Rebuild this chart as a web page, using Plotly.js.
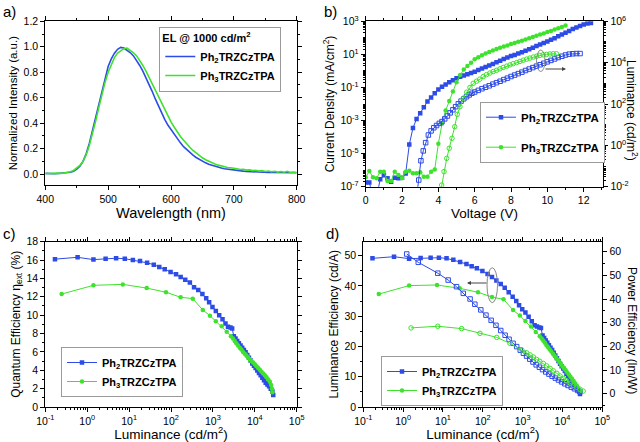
<!DOCTYPE html>
<html><head><meta charset="utf-8">
<script src="https://cdn.plot.ly/plotly-3.0.1.min.js"></script>
<style>html,body{margin:0;padding:0;background:#fff}#chart{width:640px;height:442px}</style>
</head><body><div id="chart"></div>
<script>
// ---------- Panel a: EL spectra ----------
const wavelength = [400,405,410,415,420,425,430,435,440,445,450,455,460,465,470,475,480,485,490,495,500,505,510,515,520,525,530,535,540,545,550,555,560,565,570,575,580,585,590,595,600,605,610,615,620,625,630,635,640,645,650,655,660,665,670,675,680,685,690,695,700,705,710,715,720,725,730,735,740,745,750,755,760,765,770,775,780,785,790,795,800];
const elPh2 = [0.005,0.003,0.004,0.002,0.004,0.006,0.008,0.010,0.014,0.022,0.038,0.062,0.10,0.16,0.24,0.34,0.44,0.55,0.66,0.76,0.845,0.905,0.95,0.98,0.995,0.99,0.975,0.955,0.93,0.895,0.855,0.81,0.76,0.705,0.65,0.59,0.535,0.48,0.43,0.385,0.35,0.31,0.275,0.245,0.215,0.19,0.168,0.148,0.13,0.114,0.1,0.088,0.077,0.068,0.06,0.053,0.047,0.042,0.038,0.034,0.031,0.028,0.025,0.023,0.021,0.019,0.018,0.017,0.016,0.015,0.014,0.013,0.012,0.012,0.011,0.011,0.010,0.010,0.009,0.010,0.010];
const elPh3 = [0.004,0.006,0.003,0.005,0.007,0.005,0.009,0.012,0.018,0.028,0.045,0.068,0.10,0.15,0.225,0.315,0.415,0.52,0.625,0.72,0.80,0.865,0.915,0.95,0.97,0.985,0.99,0.975,0.955,0.93,0.895,0.855,0.81,0.76,0.71,0.655,0.60,0.55,0.50,0.455,0.41,0.37,0.33,0.295,0.265,0.235,0.21,0.185,0.165,0.145,0.128,0.113,0.10,0.089,0.079,0.07,0.063,0.058,0.052,0.05,0.043,0.042,0.036,0.037,0.031,0.033,0.027,0.029,0.024,0.027,0.02,0.024,0.018,0.022,0.015,0.02,0.014,0.022,0.013,0.016,0.012];

// ---------- Panel b: J-V-L ----------
const vJPh2 = [0,0.2,0.4,0.6,0.8,1.0,1.2,1.4,1.6,1.8,2.0,2.2,2.4,2.6,2.8,3.0,3.2,3.4,3.6,3.8,4.0,4.2,4.4,4.6,4.8,5.0,5.2,5.4,5.6,5.8,6.0,6.2,6.4,6.6,6.8,7.0,7.2,7.4,7.6,7.8,8.0,8.2,8.4,8.6,8.8,9.0,9.2,9.4,9.6,9.8,10.0,10.2,10.4,10.6,10.8,11.0,11.2,11.4,11.6,11.8,12.0,12.2,12.4];
const jPh2 = [1.8e-7,1.8e-7,2.5e-8,2.5e-8,2.8e-7,5.0e-7,3.2e-7,2.0e-7,3.5e-7,3.2e-7,3.5e-7,6.3e-7,3.5e-5,3.5e-4,1.26e-3,2.8e-3,6.3e-3,1.4e-2,2.5e-2,4.5e-2,7.6e-2,0.112,0.151,0.209,0.275,0.355,0.437,0.525,0.631,0.759,0.891,1.12,1.41,1.74,2.14,2.63,3.31,4.17,5.25,6.46,7.94,9.33,11.2,13.5,16.6,20.4,25.1,31.6,39.8,49.0,60.3,75.9,95.5,123,158,204,263,339,427,525,631,724,794];
const vJPh3 = [0,0.2,0.4,0.6,0.8,1.0,1.2,1.4,1.6,1.8,2.0,2.2,2.4,2.6,2.8,3.0,3.2,3.4,3.6,3.8,4.0,4.2,4.4,4.6,4.8,5.0,5.2,5.4,5.6,5.8,6.0,6.2,6.4,6.6,6.8,7.0,7.2,7.4,7.6,7.8,8.0,8.2,8.4,8.6,8.8,9.0,9.2,9.4,9.6,9.8,10.0,10.2,10.4,10.6,10.8,11.0];
const jPh3 = [3.7e-7,8.9e-7,3.7e-7,3.2e-7,8.1e-7,8.1e-7,2.2e-7,2.2e-7,8.1e-7,5.1e-7,3.2e-7,8.1e-7,9.3e-7,6.5e-7,6.5e-7,7.4e-7,4.0e-7,4.0e-7,8.1e-7,1.1e-6,4.0e-5,6.3e-4,4.0e-3,1.5e-2,5.6e-2,0.209,0.562,1.2,2.0,3.16,5.01,6.61,8.91,11.2,13.8,17.4,20.9,25.1,29.5,34.7,41.7,49.0,57.5,67.6,79.4,93.3,112,132,158,186,224,263,316,380,457,550];
const vLPh2 = [2.8,2.92,3.04,3.17,3.3,3.45,3.6,3.75,3.9,4.05,4.2,4.35,4.5,4.65,4.8,4.95,5.1,5.25,5.4,5.55,5.7,5.85,6.0,6.2,6.4,6.6,6.8,7.0,7.2,7.4,7.6,7.8,8.0,8.2,8.4,8.6,8.8,9.0,9.2,9.4,9.6,9.8,10.0,10.2,10.4,10.6,10.8,11.0,11.2,11.4,11.6,11.8];
const lumPh2 = [0.003,0.021,0.18,0.54,1.35,3.16,5.0,7.1,9.1,11.5,14.1,19.1,26.3,37.2,52.5,74.1,102,138,178,224,275,331,380,457,550,646,759,912,1072,1259,1514,1778,2138,2512,2951,3467,4169,4898,5754,6761,7943,9333,10960,12880,15140,17780,20420,23440,25700,26920,27540,27540];
const vLPh3 = [4.05,4.18,4.31,4.46,4.6,4.75,4.9,5.04,5.19,5.37,5.56,5.74,5.92,6.1,6.28,6.47,6.65,6.84,7.02,7.2,7.39,7.57,7.76,7.94,8.12,8.31,8.49,8.68,8.86,9.04,9.23,9.41,9.59,9.77,9.96,10.14,10.32,10.5];
const lumPh3 = [0.0025,0.012,0.054,0.234,0.724,2.19,8.0,31.6,74.1,191,372,631,1000,1259,1585,2138,2630,3162,3715,4266,5012,5888,6761,7762,8913,10000,11480,13180,14790,16600,18620,20420,22390,23990,25120,26300,26920,26920];

// ---------- Panel c / d: efficiencies vs luminance ----------
const lumEffPh2 = [0.17,0.59,1.41,2.75,4.9,7.9,12.3,18.2,26.9,38.9,52.5,70.8,97.7,132,170,219,282,355,447,562,692,813,977,1175,1413,1698,1995,2291,2630,2884,3162,3467,3802,4169,4571,5012,5495,6026,6607,7244,7943,8710,9550,10470,11480,12590,13800,15140,16600,18200,19950,21880,23990,26300,27540];
const eqePh2 = [16.1,16.3,16.05,16.15,16.2,16.15,16.0,15.9,15.7,15.5,15.25,15.0,14.7,14.45,14.15,13.85,13.55,13.05,12.75,12.3,11.85,11.4,10.9,10.45,10.0,9.55,9.1,8.75,8.65,8.55,7.7,7.45,7.2,6.95,6.7,6.45,6.2,5.95,5.65,5.35,5.05,4.75,4.5,4.25,3.98,3.7,3.45,3.18,2.9,2.65,2.45,2.25,2.0,1.7,1.3];
const cePh2 = [49.1,49.65,49.0,49.2,49.3,49.3,49.1,48.6,47.9,47.2,46.5,45.8,44.9,43.9,42.9,41.8,40.6,39.4,37.9,36.4,35.0,33.6,32.3,31.2,29.8,28.3,27.0,26.6,26.3,26.1,23.6,22.8,22.0,21.2,20.4,19.6,18.8,17.9,17.0,16.1,15.2,14.3,13.5,12.7,11.9,11.0,10.2,9.4,8.6,7.8,7.1,6.5,5.8,5.1,4.3];
const lumEffPh3 = [0.245,1.41,7.08,26.3,75.9,170,331,575,851,1175,1622,2138,2692,3020,3311,3631,3981,4365,4786,5248,5754,6310,6918,7586,8318,9120,10000,10960,12020,13180,14450,15850,17380,19050,20890,22910,24550,25700,26300];
const eqePh3 = [12.3,13.25,13.35,12.95,12.5,11.95,11.8,10.55,9.95,9.35,8.8,8.2,7.7,7.45,7.2,6.95,6.7,6.45,6.25,6.0,5.8,5.6,5.4,5.2,5.0,4.85,4.65,4.45,4.25,4.05,3.85,3.65,3.45,3.25,3.0,2.75,2.4,2.0,1.6];
const cePh3 = [37.3,40.1,40.3,39.2,37.9,36.3,35.6,32.0,30.2,28.4,26.6,24.8,23.4,22.6,21.9,21.2,20.4,19.7,19.0,18.3,17.6,16.9,16.3,15.6,14.9,14.2,13.5,12.8,12.1,11.4,10.7,10.0,9.3,8.6,7.8,7.0,6.2,5.6,5.0];
const lumPePh2 = [1.23,2.4,7.4,13.5,21.9,32.4,47.9,63.1,89.1,120,162,214,282,363,457,575,708,871,1047,1259,1514,1820,2188,2630,3162,3802,4571,5495,6607,7943,9550,11480,13800,16600,19950,23990,27540];
const pePh2 = [59.0,55.5,50.9,48.0,45.2,42.4,40.0,37.8,35.4,33.2,31.0,28.9,26.7,24.7,23.0,21.3,19.9,18.4,17.1,15.9,14.6,13.4,12.2,11.2,10.2,9.2,8.3,7.4,6.6,5.8,5.0,4.2,3.5,2.8,2.1,1.4,0.85];
const lumPePh3 = [1.58,7.4,29.5,85,224,479,955,1259,1549,1862,2239,2692,3311,3981,4898,5888,7244,8710,10470,12590,15490,18620,22910,27540,33110];
const pePh3 = [27.8,28.5,27.5,25.5,23.8,21.3,18.5,17.3,16.4,15.5,14.5,13.7,12.8,11.8,10.7,9.7,8.6,7.5,6.5,5.5,4.4,3.5,2.7,1.9,1.1];

const namePh2 = '<b>Ph<sub>2</sub>TRZCzTPA</b>';
const namePh3 = '<b>Ph<sub>3</sub>TRZCzTPA</b>';

// ---------- styling ----------
const FONT = 'Arial, "Liberation Sans", sans-serif';
const BLUE = '#2d4be6', GREEN = '#3ee22c';
const tickFont = {family: FONT, size: 10.5, color: '#000'};

function baseAxis(extra) {
  return Object.assign({showline: true, linecolor: '#000', linewidth: 1, mirror: 'ticks', ticks: 'outside',
    ticklen: 4, tickcolor: '#000', tickwidth: 1, showgrid: false, zeroline: false, tickfont: tickFont}, extra);
}
function decTicks(lo, hi, step) {
  const v = [], t = [];
  for (let p = lo; p <= hi; p += step) { v.push(Math.pow(10, p)); t.push('10<sup>' + p + '</sup>'); }
  return {v, t};
}
function minorLog(lo, hi) {
  const v = [];
  for (let p = lo; p < hi; p++) for (let m = 1; m < 10; m++) v.push(m * Math.pow(10, p));
  v.push(Math.pow(10, hi));
  return v;
}
function logMinor(lo, hi) { return {tickmode: 'array', tickvals: minorLog(lo, hi), ticks: 'outside', ticklen: 2, tickcolor: '#000'}; }
function title(text, size) { return {text: text, font: {family: FONT, size: size, color: '#000'}, standoff: 3}; }

const tb1 = decTicks(-7, 3, 2), tb2 = decTicks(-2, 6, 2), tc = decTicks(-1, 5, 1);

const traces = [
  // a
  {x: wavelength, y: elPh2, xaxis: 'x', yaxis: 'y', mode: 'lines', line: {color: BLUE, width: 1.6}, name: namePh2, legend: 'legend'},
  {x: wavelength, y: elPh3, xaxis: 'x', yaxis: 'y', mode: 'lines', line: {color: GREEN, width: 1.6}, name: namePh3, legend: 'legend'},
  // b
  {x: vJPh2, y: jPh2, xaxis: 'x2', yaxis: 'y2', mode: 'lines+markers', line: {color: BLUE, width: 1}, marker: {symbol: 'square', size: 4.5, color: BLUE}, name: namePh2, legend: 'legend2', legendgroup: 'b1'},
  {x: vJPh3, y: jPh3, xaxis: 'x2', yaxis: 'y2', mode: 'lines+markers', line: {color: GREEN, width: 1}, marker: {symbol: 'circle', size: 4.5, color: GREEN}, name: namePh3, legend: 'legend2', legendgroup: 'b2'},
  {x: vLPh2, y: lumPh2, xaxis: 'x2', yaxis: 'y3', mode: 'lines+markers', line: {color: BLUE, width: 1}, marker: {symbol: 'square-open', size: 4.5, color: BLUE}, showlegend: false},
  {x: vLPh3, y: lumPh3, xaxis: 'x2', yaxis: 'y3', mode: 'lines+markers', line: {color: GREEN, width: 1}, marker: {symbol: 'circle-open', size: 4.5, color: GREEN}, showlegend: false},
  // c
  {x: lumEffPh2, y: eqePh2, xaxis: 'x3', yaxis: 'y4', mode: 'lines+markers', line: {color: BLUE, width: 1}, marker: {symbol: 'square', size: 4.5, color: BLUE}, name: namePh2, legend: 'legend3'},
  {x: lumEffPh3, y: eqePh3, xaxis: 'x3', yaxis: 'y4', mode: 'lines+markers', line: {color: GREEN, width: 1}, marker: {symbol: 'circle', size: 4.5, color: GREEN}, name: namePh3, legend: 'legend3'},
  // d
  {x: lumEffPh2, y: cePh2, xaxis: 'x4', yaxis: 'y5', mode: 'lines+markers', line: {color: BLUE, width: 1}, marker: {symbol: 'square', size: 4.5, color: BLUE}, name: namePh2, legend: 'legend4'},
  {x: lumEffPh3, y: cePh3, xaxis: 'x4', yaxis: 'y5', mode: 'lines+markers', line: {color: GREEN, width: 1}, marker: {symbol: 'circle', size: 4.5, color: GREEN}, name: namePh3, legend: 'legend4'},
  {x: lumPePh2, y: pePh2, xaxis: 'x4', yaxis: 'y6', mode: 'lines+markers', line: {color: BLUE, width: 1}, marker: {symbol: 'square-open', size: 4.5, color: BLUE}, showlegend: false},
  {x: lumPePh3, y: pePh3, xaxis: 'x4', yaxis: 'y6', mode: 'lines+markers', line: {color: GREEN, width: 1}, marker: {symbol: 'circle-open', size: 4.5, color: GREEN}, showlegend: false}
];

function legendBox(x, y, size, extra) {
  return Object.assign({x: x, y: y, xref: 'paper', yref: 'paper', xanchor: 'left', yanchor: 'top', bgcolor: '#fff',
    bordercolor: '#9a9a9a', borderwidth: 1, font: {family: FONT, size: size, color: '#000'}, itemwidth: 30, tracegroupgap: 0}, extra || {});
}

const W = 640, H = 442;
const px = v => v / W, py = v => 1 - v / H;

const layout = {
  width: W, height: H, margin: {l: 0, r: 0, t: 0, b: 0}, paper_bgcolor: '#fff', plot_bgcolor: '#fff',
  font: {family: FONT, color: '#000'},
  xaxis: baseAxis({domain: [px(45.3), px(296.7)], anchor: 'y', range: [400, 800], dtick: 100,
    minor: {dtick: 50, ticks: 'outside', ticklen: 2, tickcolor: '#000'}, title: title('Wavelength (nm)', 14.5)}),
  yaxis: baseAxis({domain: [py(185), py(21.3)], anchor: 'x', range: [-0.086, 1.2], dtick: 0.2, tickformat: '.1f',
    minor: {dtick: 0.1, ticks: 'outside', ticklen: 2, tickcolor: '#000'}, title: title('Normalized Intensity (a.u.)', 11.5)}),
  xaxis2: baseAxis({domain: [px(365.7), px(603.3)], anchor: 'y2', range: [0, 13.08], dtick: 2,
    minor: {dtick: 1, ticks: 'outside', ticklen: 2, tickcolor: '#000'}, title: title('Voltage (V)', 13.5)}),
  yaxis2: baseAxis({domain: [py(186.7), py(21.3)], anchor: 'x2', type: 'log', range: [-7, 3], mirror: false,
    tickmode: 'array', tickvals: tb1.v, ticktext: tb1.t, minor: logMinor(-7, 3), title: title('Current Density (mA/cm<sup>2</sup>)', 12)}),
  yaxis3: baseAxis({overlaying: 'y2', anchor: 'x2', side: 'right', type: 'log', range: [-2, 6], mirror: false,
    tickmode: 'array', tickvals: tb2.v, ticktext: tb2.t, minor: logMinor(-2, 6)}),
  xaxis3: baseAxis({domain: [px(45.3), px(296.7)], anchor: 'y4', type: 'log', range: [-1, 5],
    tickmode: 'array', tickvals: tc.v, ticktext: tc.t, minor: logMinor(-1, 5), title: title('Luminance (cd/m<sup>2</sup>)', 13.5)}),
  yaxis4: baseAxis({domain: [py(407), py(241.7)], anchor: 'x3', range: [0, 18], dtick: 2,
    minor: {dtick: 1, ticks: 'outside', ticklen: 2, tickcolor: '#000'}, title: title('Quantum Efficiency \u03b7<sub>ext</sub> (%)', 12)}),
  xaxis4: baseAxis({domain: [px(363.3), px(602.3)], anchor: 'y5', type: 'log', range: [-1, 5],
    tickmode: 'array', tickvals: tc.v, ticktext: tc.t, minor: logMinor(-1, 5), title: title('Luminance (cd/m<sup>2</sup>)', 13.5)}),
  yaxis5: baseAxis({domain: [py(407), py(241.7)], anchor: 'x4', range: [0, 54.6], dtick: 10, mirror: false,
    minor: {dtick: 5, ticks: 'outside', ticklen: 2, tickcolor: '#000'}, title: title('Luminance Efficiency (cd/A)', 12)}),
  yaxis6: baseAxis({overlaying: 'y5', anchor: 'x4', side: 'right', range: [-5.6, 64.2], dtick: 10, mirror: false,
    minor: {dtick: 5, ticks: 'outside', ticklen: 2, tickcolor: '#000'}}),
  legend: legendBox(px(159.3), py(26.7), 11, {title: {text: '<b>EL @ 1000 cd/m<sup>2</sup></b>', font: {family: FONT, size: 11, color: '#000'}}}),
  legend2: legendBox(px(480), py(101.7), 11.5, {tracegroupgap: 11}),
  legend3: legendBox(px(61), py(347), 11),
  legend4: legendBox(px(381), py(356), 11),
  shapes: [
    {type: 'circle', xref: 'paper', yref: 'paper', x0: px(536.5), x1: px(545), y0: py(71.5), y1: py(50), line: {color: '#888', width: 1}},
    {type: 'circle', xref: 'paper', yref: 'paper', x0: px(487), x1: px(497.5), y0: py(302.7), y1: py(267.7), line: {color: '#888', width: 1}}
  ],
  annotations: [
    {text: 'a)', x: px(1), y: py(1), xref: 'paper', yref: 'paper', xanchor: 'left', yanchor: 'top', showarrow: false, font: {family: FONT, size: 15, color: '#000'}},
    {text: 'b)', x: px(322), y: py(1), xref: 'paper', yref: 'paper', xanchor: 'left', yanchor: 'top', showarrow: false, font: {family: FONT, size: 15, color: '#000'}},
    {text: 'c)', x: px(1), y: py(223), xref: 'paper', yref: 'paper', xanchor: 'left', yanchor: 'top', showarrow: false, font: {family: FONT, size: 15, color: '#000'}},
    {text: 'd)', x: px(324), y: py(223), xref: 'paper', yref: 'paper', xanchor: 'left', yanchor: 'top', showarrow: false, font: {family: FONT, size: 15, color: '#000'}},
    {text: 'Luminance (cd/m<sup>2</sup>)', x: px(632), y: py(110), xref: 'paper', yref: 'paper', xanchor: 'center', yanchor: 'middle', textangle: 90, showarrow: false, font: {family: FONT, size: 12, color: '#000'}},
    {text: 'Power Efficiency (lm/W)', x: px(632), y: py(330), xref: 'paper', yref: 'paper', xanchor: 'center', yanchor: 'middle', textangle: 90, showarrow: false, font: {family: FONT, size: 12, color: '#000'}},
    {text: '', x: px(566), y: py(69), ax: -22, ay: 0, xref: 'paper', yref: 'paper', showarrow: true, arrowhead: 2, arrowsize: 0.8, arrowwidth: 1, arrowcolor: '#444'},
    {text: '', x: px(467), y: py(283), ax: 21, ay: 0, xref: 'paper', yref: 'paper', showarrow: true, arrowhead: 2, arrowsize: 0.8, arrowwidth: 1, arrowcolor: '#444'}
  ]
};

Plotly.newPlot('chart', traces, layout, {displayModeBar: false, staticPlot: true});
</script></body></html>
